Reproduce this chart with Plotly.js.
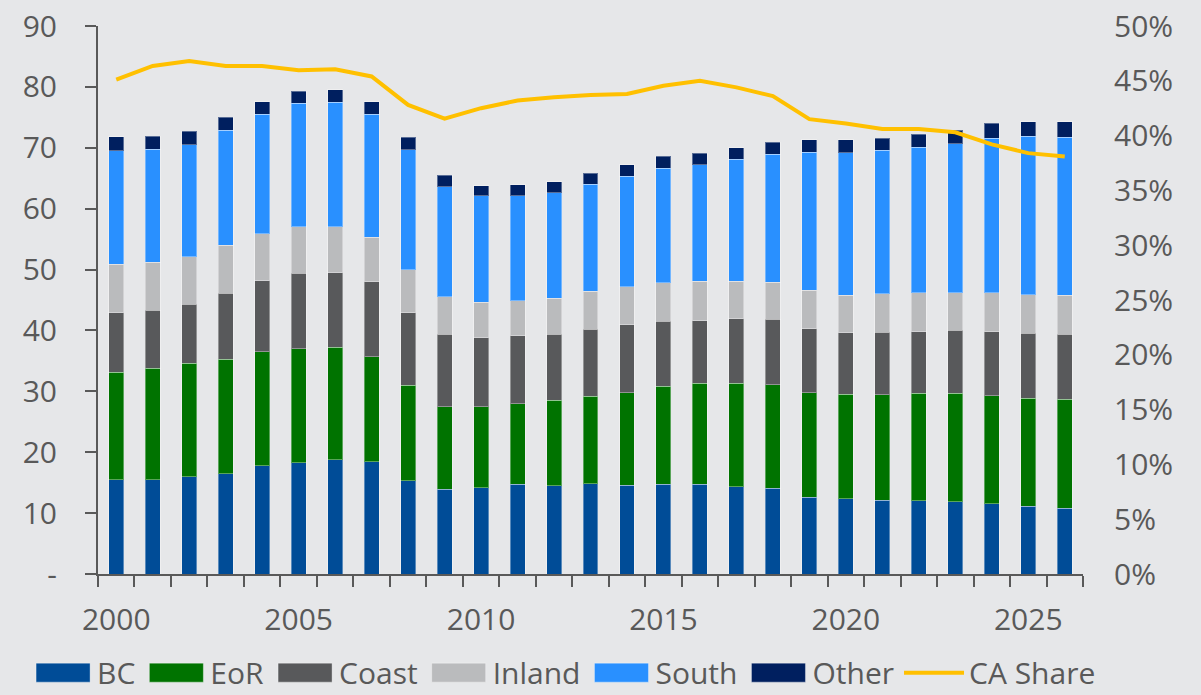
<!DOCTYPE html>
<html>
<head>
<meta charset="utf-8">
<script src="https://cdn.plot.ly/plotly-3.0.1.min.js"></script>
<style>
  html, body { margin: 0; padding: 0; background: #e6e7e9; }
  #chart { width: 1201px; height: 695px; }
</style>
</head>
<body>
<div id="chart"></div>
<script>
const years = [2000,2001,2002,2003,2004,2005,2006,2007,2008,2009,2010,2011,2012,2013,2014,2015,2016,2017,2018,2019,2020,2021,2022,2023,2024,2025,2026];

const bc     = [15.5,15.5,16.0,16.5,17.8,18.3,18.8,18.4,15.3,13.9,14.2,14.7,14.5,14.8,14.6,14.7,14.7,14.3,14.1,12.6,12.4,12.1,12.0,11.9,11.5,11.1,10.8];
const eor    = [17.6,18.3,18.6,18.8,18.7,18.7,18.4,17.3,15.7,13.6,13.3,13.3,14.0,14.4,15.2,16.1,16.6,17.0,17.0,17.2,17.1,17.3,17.7,17.8,17.8,17.8,17.9];
const coast  = [9.8,9.5,9.7,10.8,11.7,12.4,12.3,12.3,11.9,11.9,11.3,11.1,10.9,11.0,11.1,10.7,10.3,10.6,10.7,10.5,10.1,10.3,10.1,10.3,10.5,10.6,10.7];
const inland = [8.0,7.9,7.8,7.9,7.7,7.6,7.5,7.3,7.1,6.1,5.8,5.8,5.9,6.2,6.3,6.3,6.5,6.2,6.1,6.3,6.2,6.3,6.4,6.2,6.4,6.4,6.4];
const south  = [18.6,18.6,18.4,18.9,19.6,20.3,20.5,20.2,19.7,18.1,17.5,17.2,17.3,17.6,18.1,18.8,19.1,20.0,21.0,22.7,23.4,23.6,23.9,24.5,25.4,26.0,25.9];
const other  = [2.3,2.1,2.2,2.1,2.1,2.0,2.0,2.1,2.0,1.9,1.7,1.8,1.8,1.8,1.9,2.0,1.9,1.9,2.0,2.0,2.1,2.0,2.1,2.2,2.4,2.4,2.6];
const caShare = [0.451,0.4635,0.468,0.4635,0.4635,0.4596,0.4605,0.454,0.428,0.4155,0.425,0.432,0.435,0.437,0.438,0.4455,0.450,0.444,0.436,0.415,0.411,0.406,0.406,0.403,0.392,0.384,0.381];

const seriesNames = ['BC','EoR','Coast','Inland','South','Other'];
const seriesData = [bc, eor, coast, inland, south, other];
const seriesColors = ['#004c97','#007300','#58595b','#babbbd','#2990ff','#001f5f'];

const leftTickVals = [0,10,20,30,40,50,60,70,80,90];
const leftTickText = ['-','10','20','30','40','50','60','70','80','90'];
const xTickVals = [2000,2005,2010,2015,2020,2025];

const txt = '#595959';
const fontFam = '"Open Sans", "Noto Sans", sans-serif';

const traces = seriesNames.map((name, i) => ({
  type: 'bar',
  name: name,
  x: years,
  y: seriesData[i],
  marker: { color: seriesColors[i], line: { color: 'rgba(255,255,255,0.35)', width: 1 } },
  hoverinfo: 'x+y+name'
}));

traces.push({
  type: 'scatter',
  mode: 'lines',
  name: 'CA Share',
  x: years,
  y: caShare,
  yaxis: 'y2',
  line: { color: '#ffc000', width: 4 }
});

const layout = {
  width: 1201,
  height: 695,
  paper_bgcolor: '#e6e7e9',
  plot_bgcolor: '#e6e7e9',
  margin: { l: 98, r: 118, t: 26, b: 121, autoexpand: false },
  barmode: 'stack',
  bargap: 0.59,
  font: { family: fontFam, size: 30, color: txt },
  showlegend: true,
  legend: {
    orientation: 'h',
    x: -0.072, xanchor: 'left',
    y: -0.18, yanchor: 'middle',
    traceorder: 'normal',
    font: { family: fontFam, size: 30, color: txt },
    itemwidth: 60,
    bgcolor: 'rgba(0,0,0,0)'
  },
  xaxis: {
    type: 'linear',
    range: [1999.5, 2026.5],
    tickvals: xTickVals,
    ticks: '',
    showgrid: false,
    zeroline: false,
    showline: true,
    linecolor: txt,
    linewidth: 2,
    tickfont: { family: fontFam, size: 30, color: txt },
    ticklabelstandoff: 18,
    minor: { ticks: 'outside', tick0: 1999.5, dtick: 1, ticklen: 11, tickwidth: 2, tickcolor: txt, showgrid: false }
  },
  yaxis: {
    range: [0, 90],
    tickvals: leftTickVals,
    ticktext: leftTickText,
    ticks: 'outside',
    ticklen: 11,
    tickwidth: 2,
    tickcolor: txt,
    showgrid: false,
    zeroline: false,
    showline: true,
    linecolor: txt,
    linewidth: 2,
    tickfont: { family: fontFam, size: 30, color: txt },
    ticklabelstandoff: 22
  },
  yaxis2: {
    overlaying: 'y',
    side: 'right',
    range: [0, 0.5],
    dtick: 0.05,
    tick0: 0,
    tickformat: '.0%',
    ticks: '',
    showgrid: false,
    zeroline: false,
    showline: false,
    tickfont: { family: fontFam, size: 30, color: txt },
    ticklabelstandoff: 30
  }
};

Plotly.newPlot('chart', traces, layout, { displayModeBar: false, staticPlot: true }).then(gd => {
  // widen legend swatches to resemble the reference's long rectangular keys
  gd.querySelectorAll('.legend .legendpoints path').forEach(p => {
    const d = p.getAttribute('d') || '';
    if (/^M6,6H-6V-6H6Z/.test(d)) {
      p.setAttribute('d', 'M28,9.5H-26V-9.5H28Z');
    }
  });
});
</script>
</body>
</html>
